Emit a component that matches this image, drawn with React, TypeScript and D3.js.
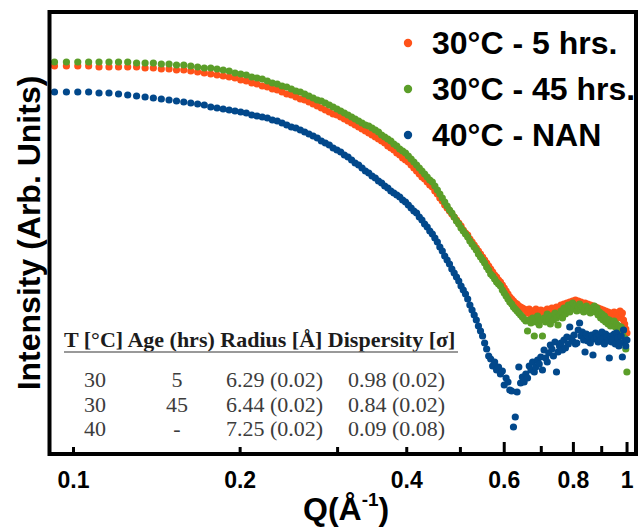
import React from "react";
import * as d3 from "d3";

// Q grid (Å^-1), shared by the three measurements
const qValues = [
  0.0924, 0.0971, 0.1018, 0.1065, 0.1112, 0.1159, 0.1206, 0.1253, 0.1300, 0.1347,
  0.1394, 0.1441, 0.1488, 0.1535, 0.1582, 0.1629, 0.1676, 0.1723, 0.1770, 0.1817,
  0.1864, 0.1911, 0.1958, 0.2005, 0.2052, 0.2099, 0.2146, 0.2193, 0.2240, 0.2287,
  0.2334, 0.2381, 0.2428, 0.2475, 0.2522, 0.2569, 0.2616, 0.2663, 0.2710, 0.2757,
  0.2804, 0.2851, 0.2898, 0.2945, 0.2992, 0.3039, 0.3086, 0.3133, 0.3180, 0.3227,
  0.3274, 0.3321, 0.3368, 0.3415, 0.3462, 0.3509, 0.3556, 0.3603, 0.3650, 0.3697,
  0.3744, 0.3791, 0.3838, 0.3885, 0.3932, 0.3979, 0.4026, 0.4073, 0.4120, 0.4167,
  0.4214, 0.4261, 0.4308, 0.4355, 0.4402, 0.4449, 0.4496, 0.4543, 0.4590, 0.4637,
  0.4684, 0.4731, 0.4778, 0.4825, 0.4872, 0.4919, 0.4966, 0.5013, 0.5060, 0.5107,
  0.5154, 0.5201, 0.5248, 0.5295, 0.5342, 0.5389, 0.5436, 0.5483, 0.5530, 0.5577,
  0.5624, 0.5671, 0.5718, 0.5765, 0.5812, 0.5859, 0.5906, 0.5953, 0.6000, 0.6047,
  0.6094, 0.6141, 0.6188, 0.6235, 0.6282, 0.6329, 0.6376, 0.6423, 0.6470, 0.6517,
  0.6564, 0.6611, 0.6658, 0.6705, 0.6752, 0.6799, 0.6846, 0.6893, 0.6940, 0.6987,
  0.7034, 0.7081, 0.7128, 0.7175, 0.7222, 0.7269, 0.7316, 0.7363, 0.7410, 0.7457,
  0.7504, 0.7551, 0.7598, 0.7645, 0.7692, 0.7739, 0.7786, 0.7833, 0.7880, 0.7927,
  0.7974, 0.8021, 0.8068, 0.8115, 0.8162, 0.8209, 0.8256, 0.8303, 0.8350, 0.8397,
  0.8444, 0.8491, 0.8538, 0.8585, 0.8632, 0.8679, 0.8726, 0.8773, 0.8820, 0.8867,
  0.8914, 0.8961, 0.9008, 0.9055, 0.9102, 0.9149, 0.9196, 0.9243, 0.9290, 0.9337,
  0.9384, 0.9431, 0.9478, 0.9525, 0.9572, 0.9619, 0.9666, 0.9713, 0.9760, 0.9807,
  0.9854, 0.9901, 0.9948, 0.9995,
];

// log10 intensity (arb. units), 30°C - 5 hrs.
const logI5h = [
  0.00, 0.00, 0.00, 0.00, -0.01, -0.01, -0.01, -0.01, -0.01, -0.02,
  -0.02, -0.03, -0.03, -0.04, -0.04, -0.05, -0.06, -0.07, -0.08, -0.09,
  -0.10, -0.11, -0.12, -0.14, -0.15, -0.17, -0.18, -0.20, -0.21, -0.23,
  -0.24, -0.26, -0.28, -0.29, -0.31, -0.33, -0.34, -0.36, -0.38, -0.40,
  -0.42, -0.44, -0.46, -0.48, -0.49, -0.51, -0.53, -0.55, -0.57, -0.59,
  -0.61, -0.63, -0.65, -0.67, -0.69, -0.71, -0.73, -0.75, -0.77, -0.80,
  -0.82, -0.84, -0.87, -0.89, -0.92, -0.94, -0.96, -0.99, -1.02, -1.05,
  -1.08, -1.11, -1.13, -1.16, -1.19, -1.21, -1.25, -1.28, -1.32, -1.35,
  -1.39, -1.42, -1.45, -1.48, -1.51, -1.54, -1.57, -1.60, -1.64, -1.67,
  -1.69, -1.73, -1.76, -1.79, -1.82, -1.85, -1.88, -1.91, -1.94, -1.97,
  -2.00, -2.03, -2.06, -2.09, -2.11, -2.14, -2.16, -2.19, -2.22, -2.25,
  -2.28, -2.31, -2.33, -2.35, -2.37, -2.38, -2.40, -2.41, -2.42, -2.43,
  -2.44, -2.47, -2.43, -2.49, -2.45, -2.48, -2.43, -2.50, -2.46, -2.44,
  -2.49, -2.45, -2.47, -2.43, -2.48, -2.45, -2.42, -2.47, -2.44, -2.41,
  -2.46, -2.42, -2.39, -2.43, -2.38, -2.41, -2.37, -2.40, -2.36, -2.39,
  -2.35, -2.38, -2.34, -2.37, -2.35, -2.39, -2.36, -2.38, -2.40, -2.37,
  -2.41, -2.38, -2.42, -2.39, -2.43, -2.40, -2.44, -2.41, -2.45, -2.42,
  -2.46, -2.43, -2.47, -2.44, -2.48, -2.45, -2.49, -2.46, -2.50, -2.47,
  -2.51, -2.48, -2.46, -2.50, -2.47, -2.52, -2.49, -2.45, -2.51, -2.47,
  -2.54, -2.58, -2.63, -2.67,
];

// log10 intensity, 30°C - 45 hrs.
const logI45h = [
  0.04, 0.04, 0.04, 0.04, 0.04, 0.04, 0.04, 0.04, 0.03, 0.03,
  0.03, 0.02, 0.02, 0.01, 0.01, 0.00, -0.01, -0.02, -0.02, -0.03,
  -0.04, -0.05, -0.07, -0.08, -0.09, -0.11, -0.12, -0.13, -0.15, -0.17,
  -0.18, -0.20, -0.21, -0.23, -0.25, -0.26, -0.28, -0.30, -0.32, -0.34,
  -0.35, -0.37, -0.39, -0.41, -0.43, -0.45, -0.47, -0.49, -0.51, -0.53,
  -0.55, -0.57, -0.59, -0.60, -0.62, -0.64, -0.66, -0.69, -0.71, -0.73,
  -0.75, -0.78, -0.80, -0.83, -0.85, -0.87, -0.90, -0.93, -0.96, -0.99,
  -1.02, -1.05, -1.08, -1.11, -1.14, -1.16, -1.20, -1.24, -1.28, -1.32,
  -1.36, -1.40, -1.44, -1.47, -1.51, -1.55, -1.58, -1.62, -1.65, -1.68,
  -1.71, -1.75, -1.78, -1.81, -1.84, -1.88, -1.91, -1.94, -1.97, -2.01,
  -2.04, -2.08, -2.10, -2.13, -2.16, -2.18, -2.20, -2.24, -2.27, -2.30,
  -2.33, -2.36, -2.38, -2.41, -2.43, -2.45, -2.47, -2.49, -2.51, -2.53,
  -2.55, -2.65, -2.54, -2.57, -2.52, -2.70, -2.56, -2.50, -2.59, -2.54,
  -2.70, -2.52, -2.56, -2.48, -2.53, -2.58, -2.50, -2.54, -2.47, -2.52,
  -2.59, -2.49, -2.45, -2.52, -2.42, -2.48, -2.44, -2.39, -2.46, -2.40,
  -2.37, -2.43, -2.40, -2.45, -2.41, -2.38, -2.44, -2.41, -2.46, -2.42,
  -2.40, -2.45, -2.43, -2.47, -2.42, -2.44, -2.40, -2.46, -2.42, -2.49,
  -2.46, -2.52, -2.48, -2.54, -2.50, -2.56, -2.53, -2.58, -2.54, -2.60,
  -2.56, -2.59, -2.55, -2.61, -2.58, -2.63, -2.60, -2.65, -2.61, -2.68,
  -2.64, -2.72, -2.83, -3.06,
];

// log10 intensity, 40°C - NAN
const logINan = [
  -0.26, -0.26, -0.26, -0.26, -0.27, -0.27, -0.28, -0.29, -0.30, -0.31,
  -0.32, -0.33, -0.34, -0.35, -0.36, -0.37, -0.38, -0.39, -0.41, -0.42,
  -0.43, -0.44, -0.45, -0.46, -0.47, -0.49, -0.50, -0.51, -0.52, -0.54,
  -0.55, -0.57, -0.59, -0.61, -0.62, -0.64, -0.66, -0.68, -0.70, -0.72,
  -0.75, -0.77, -0.79, -0.82, -0.84, -0.86, -0.89, -0.91, -0.94, -0.97,
  -0.99, -1.02, -1.05, -1.07, -1.10, -1.12, -1.15, -1.17, -1.20, -1.22,
  -1.25, -1.27, -1.29, -1.31, -1.34, -1.36, -1.39, -1.42, -1.45, -1.47,
  -1.51, -1.54, -1.58, -1.61, -1.65, -1.68, -1.72, -1.76, -1.81, -1.85,
  -1.90, -1.94, -1.98, -2.03, -2.07, -2.11, -2.15, -2.20, -2.24, -2.28,
  -2.33, -2.39, -2.44, -2.49, -2.54, -2.60, -2.65, -2.70, -2.77, -2.83,
  -2.90, -2.93, -3.00, -2.96, -3.04, -3.01, -3.08, -3.05, -3.19, -3.12,
  -3.16, -3.24, -3.25, -3.61, -3.51, -3.26, -3.01, -3.17, -3.11, -3.16,
  -3.08, -3.12, -3.00, -3.04, -2.96, -3.06, -3.01, -2.94, -2.98, -2.91,
  -3.04, -2.84, -2.92, -2.96, -2.87, -2.79, -2.83, -2.90, -2.76, -3.06,
  -2.86, -2.80, -2.77, -2.84, -2.74, -2.82, -2.71, -2.78, -2.61, -2.72,
  -2.75, -2.69, -2.78, -2.77, -2.64, -2.57, -2.70, -2.66, -2.74, -2.86,
  -2.68, -2.75, -2.71, -2.77, -2.69, -2.89, -2.73, -2.67, -2.71, -2.76,
  -2.69, -2.74, -2.66, -2.72, -2.78, -2.68, -2.71, -2.75, -2.92, -2.70,
  -2.76, -2.73, -2.68, -2.78, -2.67, -2.72, -2.80, -2.77, -2.70, -2.91,
  -2.64, -2.75, -2.80, -2.74,
];

const seriesNames = ["30°C - 5 hrs.", "30°C - 45 hrs.", "40°C - NAN"];
const seriesColors = ["#ff5219", "#5b9e29", "#02488b"];

const xTickValues = [0.1, 0.2, 0.3, 0.4, 0.5, 0.6, 0.7, 0.8, 0.9, 1];
const xTickLabels = [0.1, 0.2, 0.4, 0.6, 0.8, 1];

const tableHeader = "T [°C] Age (hrs) Radius [Å] Dispersity [σ]";
const tableTemp = ["30", "30", "40"];
const tableAge = ["5", "45", "-"];
const tableRadius = ["6.29 (0.02)", "6.44 (0.02)", "7.25 (0.02)"];
const tableDispersity = ["0.98 (0.02)", "0.84 (0.02)", "0.09 (0.08)"];

const W = 641;
const H = 527;
const frame = { left: 49.5, right: 636, top: 12, bottom: 454 };
const sans = "'Liberation Sans', Arial, Helvetica, sans-serif";
const serif = "'Liberation Serif', 'Times New Roman', Times, serif";

export default function App() {
  const x = d3.scaleLog().domain([0.0905, 1.038]).range([frame.left, frame.right]);
  const y = d3.scaleLinear().domain([-3.88, 0.54]).range([frame.bottom, frame.top]);

  const series = [logI5h, logI45h, logINan];

  const tickLen = (t: number) =>
    t === 0.6 || t === 0.8 || t === 1 ? 12 : t === 0.7 || t === 0.9 ? 8 : 7;

  return (
    <svg
      width={W}
      height={H}
      style={{ position: "absolute", left: 0, top: 0, background: "#fff" }}
    >
      {/* data */}
      {series.map((vals, s) => (
        <g key={s} fill={seriesColors[s]}>
          {vals.map((v, i) => (
            <circle key={i} cx={x(qValues[i])} cy={y(v)} r={3.6} />
          ))}
        </g>
      ))}

      {/* frame */}
      <rect
        x={frame.left}
        y={frame.top}
        width={frame.right - frame.left}
        height={frame.bottom - frame.top}
        fill="none"
        stroke="#000"
        strokeWidth={4}
      />

      {/* x ticks */}
      {xTickValues.map((t) => (
        <line
          key={t}
          x1={x(t)}
          x2={x(t)}
          y1={frame.bottom}
          y2={frame.bottom - tickLen(t)}
          stroke="#000"
          strokeWidth={3}
        />
      ))}
      {xTickLabels.map((t) => (
        <text
          key={t}
          x={x(t)}
          y={488}
          textAnchor="middle"
          fontFamily={sans}
          fontWeight="bold"
          fontSize={23}
        >
          {d3.format("~g")(t)}
        </text>
      ))}

      {/* axis titles */}
      <text x={303} y={520} fontFamily={sans} fontWeight="bold" fontSize={32}>
        Q(Å
        <tspan fontSize={19} dy={-14}>-1</tspan>
        <tspan dy={14}>)</tspan>
      </text>
      <text
        transform={`translate(40,${(frame.top + frame.bottom) / 2}) rotate(-90)`}
        textAnchor="middle"
        fontFamily={sans}
        fontWeight="bold"
        fontSize={32}
      >
        Intensity (Arb. Units)
      </text>

      {/* legend */}
      {seriesNames.map((name, i) => (
        <g key={name} transform={`translate(408,${43 + i * 46})`}>
          <circle r={4.2} fill={seriesColors[i]} />
          <text x={24} y={11} fontFamily={sans} fontWeight="bold" fontSize={32}>
            {name}
          </text>
        </g>
      ))}

      {/* fit table */}
      <text x={64} y={347} fontFamily={serif} fontWeight="bold" fontSize={22} fill="#1c1c1c">
        {tableHeader}
      </text>
      <line x1={64} x2={458} y1={352} y2={352} stroke="#777" strokeWidth={1.5} />
      {tableTemp.map((t, i) => {
        const ty = 387 + i * 24.5;
        return (
          <g key={i} fontFamily={serif} fontSize={22} fill="#3c3c3c">
            <text x={95} y={ty} textAnchor="middle">{t}</text>
            <text x={177} y={ty} textAnchor="middle">{tableAge[i]}</text>
            <text x={226} y={ty}>{tableRadius[i]}</text>
            <text x={348} y={ty}>{tableDispersity[i]}</text>
          </g>
        );
      })}
    </svg>
  );
}
